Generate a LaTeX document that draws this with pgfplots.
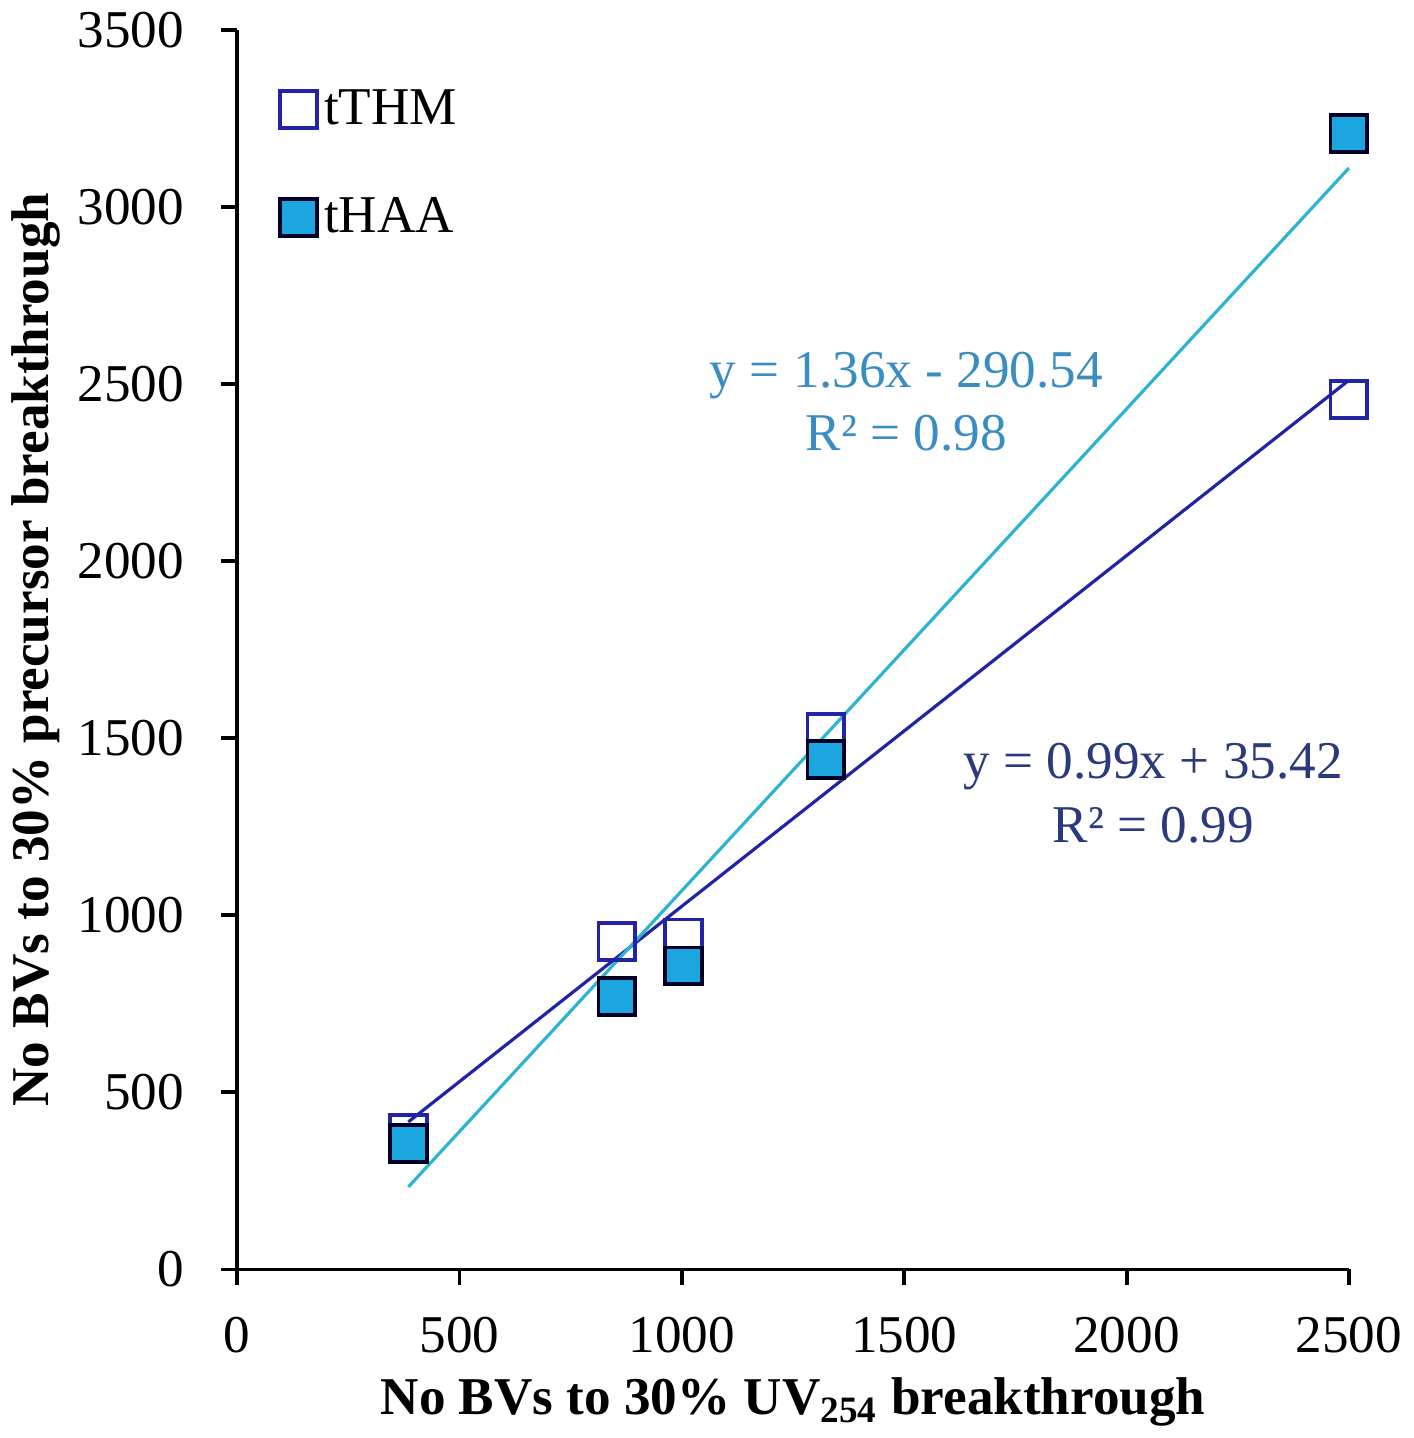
\documentclass[border=0pt]{standalone}
\usepackage{fontspec}
\setmainfont{Liberation Serif}
\usepackage{pgfplots}
\pgfplotsset{compat=1.18}

\definecolor{thmblue}{HTML}{2323A6}
\definecolor{haafill}{HTML}{1BA6E0}
\definecolor{haaline}{HTML}{2DB4D2}
\definecolor{haatext}{HTML}{3A8DC2}
\definecolor{thmtext}{HTML}{2B3A7A}

\begin{document}
\begin{tikzpicture}
\begin{axis}[
    scale only axis,
    width=110.3mm, height=123mm,
    xmin=0, xmax=2500, ymin=0, ymax=3500,
    axis lines*=left,
    axis line style={line width=1.1pt},
    xtick={0,500,...,2500},
    ytick={0,500,...,3500},
    tick align=outside,
    major tick length=4.5pt,
    tick style={line width=1.1pt, black},
    font=\fontsize{15}{18}\selectfont,
    ticklabel style={font=\fontsize{15}{18}\selectfont},
    yticklabel style={xshift=-7pt},
    xticklabel style={yshift=-5.5pt},
    /pgf/number format/assume math mode=true,
    /pgf/number format/1000 sep={},
    xlabel={\bfseries No BVs to 30\% UV\textsubscript{254} breakthrough},
    ylabel={\bfseries No BVs to 30\% precursor breakthrough},
    xlabel style={yshift=0pt},
    ylabel style={yshift=-2pt},
    legend style={at={(0.038,0.958)}, anchor=north west, draw=none, fill=none,
        font=\fontsize{15}{18}\selectfont, row sep=5.3mm,
        inner sep=0pt},
    legend cell align=left,
    clip=false,
]
% trend lines
\addplot[thmblue, line width=0.9pt, forget plot] coordinates {(385,416.6) (2500,2510.4)};
\addplot[haaline, line width=0.9pt, forget plot] coordinates {(385,233.1) (2500,3109.5)};

\addplot[only marks, mark=square, mark size=5.2pt,
    mark options={draw=thmblue, fill=white, line width=1.1pt}]
    coordinates {(385,384) (854,925) (1004,936) (1324,1517) (2500,2456)};
\addlegendentry{tTHM}

\addplot[only marks, mark=square*, mark size=5.2pt,
    mark options={draw=black!85!blue, fill=haafill, line width=1.1pt}]
    coordinates {(385,356) (854,771) (1004,857) (1324,1440) (2500,3207)};
\addlegendentry{tHAA}

\node[haatext, align=center, font=\fontsize{15}{18}\selectfont]
    at (axis cs:1505,2450) {y = 1.36x - 290.54\\R² = 0.98};
\node[thmtext, align=center, font=\fontsize{15}{18}\selectfont]
    at (axis cs:2060,1345) {y = 0.99x + 35.42\\R² = 0.99};
\end{axis}
\end{tikzpicture}
\end{document}
